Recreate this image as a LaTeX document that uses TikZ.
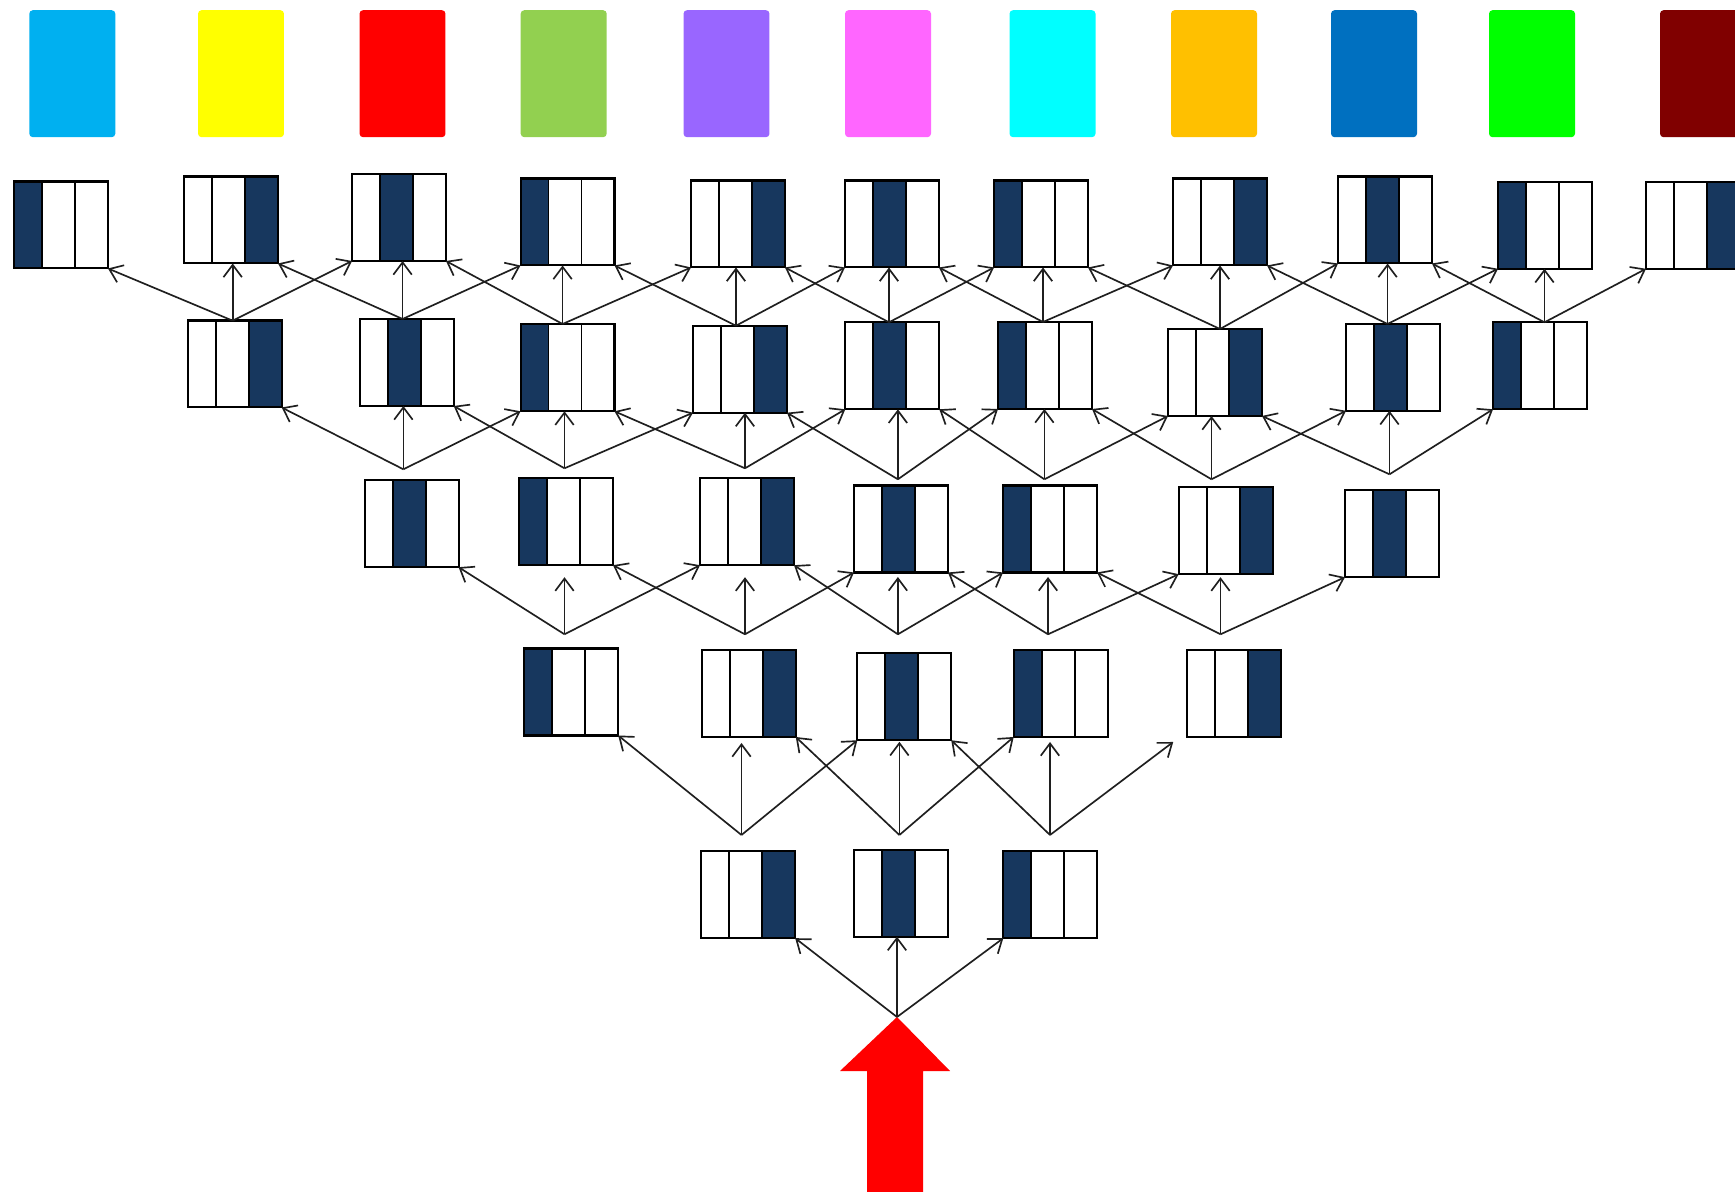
\documentclass[tikz,border=0pt]{standalone}
\usetikzlibrary{arrows.meta}
\definecolor{navy}{HTML}{17375E}
\definecolor{swA}{HTML}{00B0F0}
\definecolor{swB}{HTML}{FFFF00}
\definecolor{swC}{HTML}{FF0000}
\definecolor{swD}{HTML}{92D050}
\definecolor{swE}{HTML}{9966FF}
\definecolor{swF}{HTML}{FF66FF}
\definecolor{swG}{HTML}{00FFFF}
\definecolor{swH}{HTML}{FFC000}
\definecolor{swI}{HTML}{0070C0}
\definecolor{swJ}{HTML}{00FF00}
\definecolor{swK}{HTML}{800000}
\definecolor{bigred}{HTML}{FF0000}
\newcommand\cellpic[1]{%
  \ifcase#1\or
    \fill[navy] (path picture bounding box.south west) rectangle ([xshift=0.56cm]path picture bounding box.north west);%
  \or
    \fill[navy] ([xshift=0.56cm]path picture bounding box.south west) rectangle ([xshift=1.22cm]path picture bounding box.north west);%
  \or
    \fill[navy] ([xshift=1.22cm]path picture bounding box.south west) rectangle (path picture bounding box.north east);%
  \fi
  \draw[line width=1.1pt,black] ([xshift=0.56cm]path picture bounding box.south west) -- ([xshift=0.56cm]path picture bounding box.north west) ([xshift=1.22cm]path picture bounding box.south west) -- ([xshift=1.22cm]path picture bounding box.north west);%
}
\tikzset{
  cellframe/.style={draw=black, line width=1.15pt, fill=white, minimum width=1.88cm, minimum height=1.74cm, inner sep=0pt, outer sep=0pt},
  cellbox/.style={cellframe, path picture={\cellpic{#1}}},
  swatch/.style={minimum width=1.72cm, minimum height=2.54cm, rounded corners=2pt, inner sep=0pt, fill=#1},
  arr/.style={draw=black!88, line width=0.95pt, -{Straight Barb[length=7pt,width=10.5pt]}},
}
\begin{document}
\begin{tikzpicture}[x=0.02cm,y=-0.02cm]
\path[use as bounding box] (0,0) rectangle (1735,1192);
\clip (0,0) rectangle (1735,1192);
\fill[white] (0,0) rectangle (1735,1192);
% colour swatches
\foreach \i/\x/\c in {1/72.3/swA, 2/241/swB, 3/402.5/swC, 4/563.7/swD, 5/726.5/swE, 6/888/swF, 7/1052.5/swG, 8/1214/swH, 9/1374/swI, 10/1532/swJ, 11/1703/swK}
  \node[swatch=\c] (sw\i) at (\x,73.7) {};
% layer 1
\foreach \i/\x/\y/\s in {1/61/225/1, 2/231/220/3, 3/399/217.5/2, 4/567.5/222/1, 5/738/224/3, 6/892/224/2, 7/1041/224/1, 8/1220/222/3, 9/1385/220/2, 10/1545/225.3/1, 11/1693/225.3/3}
  \node[cellbox=\s] (A\i) at (\x,\y) {};
% layer 2
\foreach \i/\x/\y/\s in {1/234.7/364/3, 2/406.7/362.5/2, 3/567.5/367.8/1, 4/740/369.2/3, 5/892.3/365.8/2, 6/1045/365.5/1, 7/1215/372.5/3, 8/1393/367.3/2, 9/1540/365.8/1}
  \node[cellbox=\s] (B\i) at (\x,\y) {};
% layer 3
\foreach \i/\x/\y/\s in {1/411.6/523.7/2, 2/566/521.7/1, 3/747/521.7/3, 4/901/529/2, 5/1050/529/1, 6/1225.7/530.7/3, 7/1392/533.7/2}
  \node[cellbox=\s] (C\i) at (\x,\y) {};
% layer 4
\foreach \i/\x/\y/\s in {1/571.2/692/1, 2/748.8/693.5/3, 3/904.3/696.8/2, 4/1060.7/693.5/1, 5/1234.2/693.5/3}
  \node[cellbox=\s] (D\i) at (\x,\y) {};
% layer 5
\foreach \i/\x/\y/\s in {1/748.2/894.7/3, 2/900.8/893.2/2, 3/1050.3/894.7/1}
  \node[cellbox=\s] (E\i) at (\x,\y) {};
% big red arrow
\fill[bigred] (897,1017) -- (950,1071) -- (923,1071) -- (923,1200) -- (867,1200) -- (867,1071) -- (840,1071) -- cycle;
\coordinate (tip) at (897,1017);
% arrows layer 2 -> layer 1
\foreach \k/\sx/\sy in {1/232.7/320.7, 2/402.6/319, 3/562.6/324, 4/736/325.7, 5/889/322.3, 6/1043/322, 7/1220/329, 8/1387.6/324, 9/1544.5/322.3} {
  \pgfmathtruncatemacro\m{\k+1}
  \pgfmathtruncatemacro\n{\k+2}
  \coordinate (sB\k) at (\sx,\sy);
  \draw[arr] (sB\k) -- (A\k.south east);
  \draw[arr] (sB\k) -- (sB\k |- A\m.south);
  \draw[arr] (sB\k) -- (A\n.south west);
}
% arrows layer 3 -> layer 2
\foreach \k/\sx/\sy in {1/403.4/469.3, 2/564.5/468.3, 3/745/468.3, 4/897.9/479.3, 5/1044.4/479.3, 6/1211.5/479.3, 7/1389.5/474.3} {
  \pgfmathtruncatemacro\m{\k+1}
  \pgfmathtruncatemacro\n{\k+2}
  \coordinate (sC\k) at (\sx,\sy);
  \draw[arr] (sC\k) -- (B\k.south east);
  \draw[arr] (sC\k) -- (sC\k |- B\m.south);
  \draw[arr] (sC\k) -- (B\n.south west);
}
% arrows layer 4 -> layer 3
\foreach \k/\sx/\sy/\g in {1/564.5/634.3/0.24, 2/745/634.3/0.24, 3/897.9/634.3/0.09, 4/1048/634.3/0.09, 5/1220.5/634.3/0.06} {
  \pgfmathtruncatemacro\m{\k+1}
  \pgfmathtruncatemacro\n{\k+2}
  \coordinate (sD\k) at (\sx,\sy);
  \draw[arr] (sD\k) -- (C\k.south east);
  \draw[arr, shorten >=\g cm] (sD\k) -- (sD\k |- C\m.south);
  \draw[arr] (sD\k) -- (C\n.south west);
}
% arrows layer 5 -> layer 4
\coordinate (sE1) at (741.5,835);
\coordinate (sE2) at (899.4,835);
\coordinate (sE3) at (1050,835);
\draw[arr] (sE1) -- (D1.south east);
\draw[arr, shorten >=0.12cm] (sE1) -- (sE1 |- D2.south);
\draw[arr] (sE1) -- (D3.south west);
\draw[arr] (sE2) -- (D2.south east);
\draw[arr, shorten >=0.03cm] (sE2) -- (sE2 |- D3.south);
\draw[arr] (sE2) -- (D4.south west);
\draw[arr] (sE3) -- (D3.south east);
\draw[arr, shorten >=0.1cm] (sE3) -- (sE3 |- D4.south);
\draw[arr] (sE3) -- ([xshift=-0.28cm,yshift=-0.1cm]D5.south west);
% arrows red arrow -> layer 5
\draw[arr] (tip) -- (E1.south east);
\draw[arr] (tip) -- (tip |- E2.south);
\draw[arr] (tip) -- (E3.south west);
\end{tikzpicture}
\end{document}
